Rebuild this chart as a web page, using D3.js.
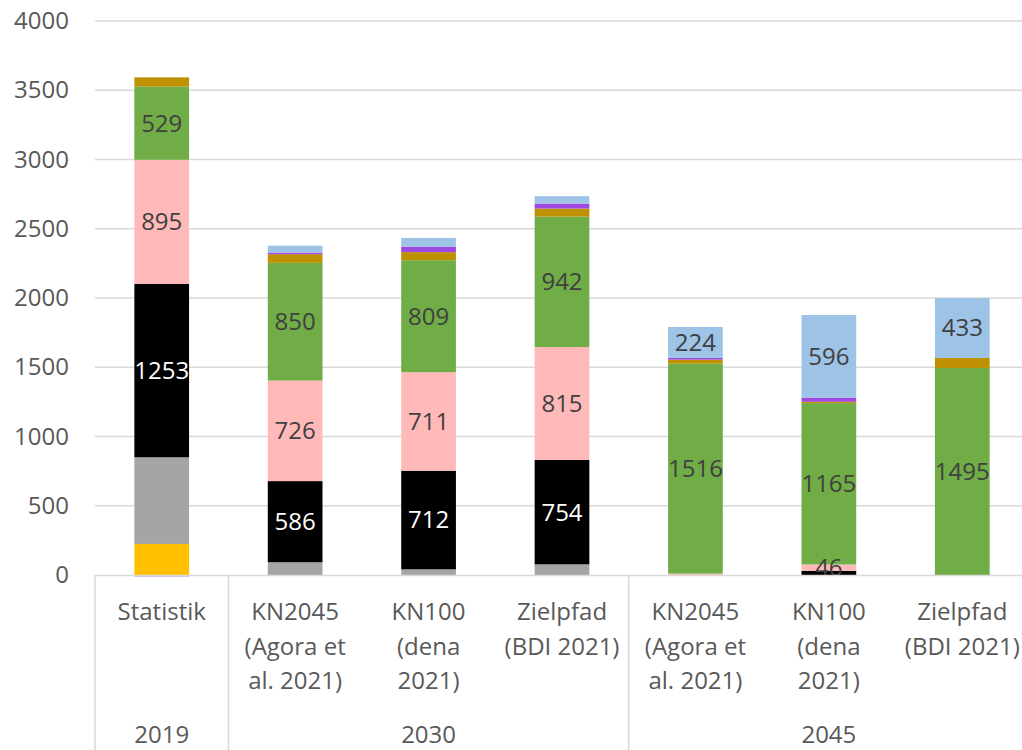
<!DOCTYPE html>
<html>
<head>
<meta charset="utf-8">
<script src="https://cdn.jsdelivr.net/npm/d3@7"></script>
<style>
  body { margin: 0; background: #fff; }
  svg { display: block; font-family: "Open Sans", sans-serif; }
</style>
</head>
<body>
<div id="chart"></div>
<script>
// categories (label lines) and their year groups
const categories = [
    ["Statistik"],
    ["KN2045", "(Agora et", "al. 2021)"],
    ["KN100", "(dena", "2021)"],
    ["Zielpfad", "(BDI 2021)"],
    ["KN2045", "(Agora et", "al. 2021)"],
    ["KN100", "(dena", "2021)"],
    ["Zielpfad", "(BDI 2021)"]
];
const years = [
    { label: "2019", from: 0, to: 0 },
    { label: "2030", from: 1, to: 3 },
    { label: "2045", from: 4, to: 6 }
];

// stacked series, bottom to top
const seriesNames = ["gelb", "grau", "schwarz", "rosa", "gruen", "gold", "lila", "hellblau"];
const gelb     = [224, 0, 0, 0, 0, 0, 0];
const grau     = [626, 92, 41, 77, 0, 0, 0];
const schwarz  = [1253, 586, 712, 754, 0, 30, 0];
const rosa     = [895, 726, 711, 815, 10, 46, 0];
const gruen    = [529, 850, 809, 942, 1516, 1165, 1495];
const gold     = [66, 62, 58, 58, 29, 10, 72];
const lila     = [-10, 12, 40, 36, 12, 30, 0];
const hellblau = [0, 50, 63, 53, 224, 596, 433];

// which segments carry a data label: [category index, series]
const labelled = [
    [0, "schwarz"], [0, "rosa"], [0, "gruen"],
    [1, "schwarz"], [1, "rosa"], [1, "gruen"],
    [2, "schwarz"], [2, "rosa"], [2, "gruen"],
    [3, "schwarz"], [3, "rosa"], [3, "gruen"],
    [4, "gruen"], [4, "hellblau"],
    [5, "rosa"], [5, "gruen"], [5, "hellblau"],
    [6, "gruen"], [6, "hellblau"]
];

const yTicks = [0, 500, 1000, 1500, 2000, 2500, 3000, 3500, 4000];

const colors = {
    gelb: "#FFC000", grau: "#A5A5A5", schwarz: "#000000", rosa: "#FFB9B9",
    gruen: "#70AD47", gold: "#BF9000", lila: "#9E48E2", hellblau: "#9DC3E6"
};

const width = 1022, height = 750;
const plotLeft = 95, plotRight = 1029, plotTop = 21, plotBottom = 575;

const values = { gelb, grau, schwarz, rosa, gruen, gold, lila, hellblau };
const table = categories.map((c, i) => {
    const row = { i };
    seriesNames.forEach(s => row[s] = values[s][i]);
    return row;
});

const stack = d3.stack()
    .keys(seriesNames)
    .offset(d3.stackOffsetDiverging);
const stacked = stack(table);

const x = d3.scaleBand()
    .domain(d3.range(categories.length))
    .range([plotLeft, plotRight])
    .paddingInner(0.59)
    .paddingOuter(0.295);

const y = d3.scaleLinear()
    .domain([0, 4000])
    .range([plotBottom, plotTop]);

const svg = d3.select("#chart")
    .append("svg")
    .attr("width", width)
    .attr("height", height);

// gridlines
svg.append("g")
    .selectAll("line")
    .data(yTicks.filter(t => t > 0))
    .join("line")
        .attr("x1", plotLeft)
        .attr("x2", plotRight)
        .attr("y1", d => y(d))
        .attr("y2", d => y(d))
        .attr("stroke", "#D9D9D9")
        .attr("stroke-width", 1.3);

// y axis labels
const leftAxis = d3.axisLeft(y)
    .tickValues(yTicks)
    .tickFormat(d3.format("d"))
    .tickSize(0)
    .tickPadding(0);
const yAxisG = svg.append("g")
    .attr("transform", "translate(69,0)")
    .call(leftAxis);
yAxisG.select(".domain").remove();
yAxisG.selectAll("text")
    .attr("fill", "#595959")
    .attr("font-size", "24px")
    .attr("font-family", "Open Sans, sans-serif");

// bars
const layers = svg.append("g")
    .selectAll("g")
    .data(stacked)
    .join("g")
        .attr("fill", d => colors[d.key]);

layers.selectAll("rect")
    .data(d => d.map(p => ({ p, key: d.key })))
    .join("rect")
        .attr("x", d => x(d.p.data.i))
        .attr("width", x.bandwidth())
        .attr("y", d => y(Math.max(d.p[0], d.p[1])))
        .attr("height", d => Math.abs(y(d.p[0]) - y(d.p[1])));

// data labels
const labelData = labelled.map(([ci, key]) => {
    const layer = stacked.find(l => l.key === key);
    const p = layer[ci];
    return { ci, key, v: values[key][ci], mid: (p[0] + p[1]) / 2 };
});

svg.append("g")
    .selectAll("text")
    .data(labelData)
    .join("text")
        .attr("x", d => x(d.ci) + x.bandwidth() / 2)
        .attr("y", d => y(d.mid))
        .attr("dy", "0.35em")
        .attr("text-anchor", "middle")
        .attr("font-size", "24px")
        .attr("fill", d => d.key === "schwarz" ? "#FFFFFF" : "#404040")
        .text(d => d.v);

// category axis
const axisColor = "#D9D9D9";
svg.append("line")
    .attr("x1", plotLeft).attr("x2", plotRight)
    .attr("y1", plotBottom + 0.5).attr("y2", plotBottom + 0.5)
    .attr("stroke", axisColor).attr("stroke-width", 1.5);

const step = x.step();
const groupEdges = [plotLeft].concat(years.map(g => plotLeft + (g.to + 1) * step));
svg.append("g")
    .selectAll("line")
    .data(groupEdges)
    .join("line")
        .attr("x1", d => d).attr("x2", d => d)
        .attr("y1", plotBottom).attr("y2", height)
        .attr("stroke", axisColor).attr("stroke-width", 1.5);

const catLabels = svg.append("g")
    .selectAll("text")
    .data(categories)
    .join("text")
        .attr("text-anchor", "middle")
        .attr("font-size", "24px")
        .attr("fill", "#595959")
        .attr("transform", (d, i) => `translate(${x(i) + x.bandwidth() / 2},620)`);

catLabels.selectAll("tspan")
    .data(d => d)
    .join("tspan")
        .attr("x", 0)
        .attr("y", (d, j) => j * 34.5)
        .text(d => d);

svg.append("g")
    .selectAll("text")
    .data(years)
    .join("text")
        .attr("x", g => (x(g.from) + x(g.to) + x.bandwidth()) / 2)
        .attr("y", 743)
        .attr("text-anchor", "middle")
        .attr("font-size", "24px")
        .attr("fill", "#595959")
        .text(g => g.label);
</script>
</body>
</html>
